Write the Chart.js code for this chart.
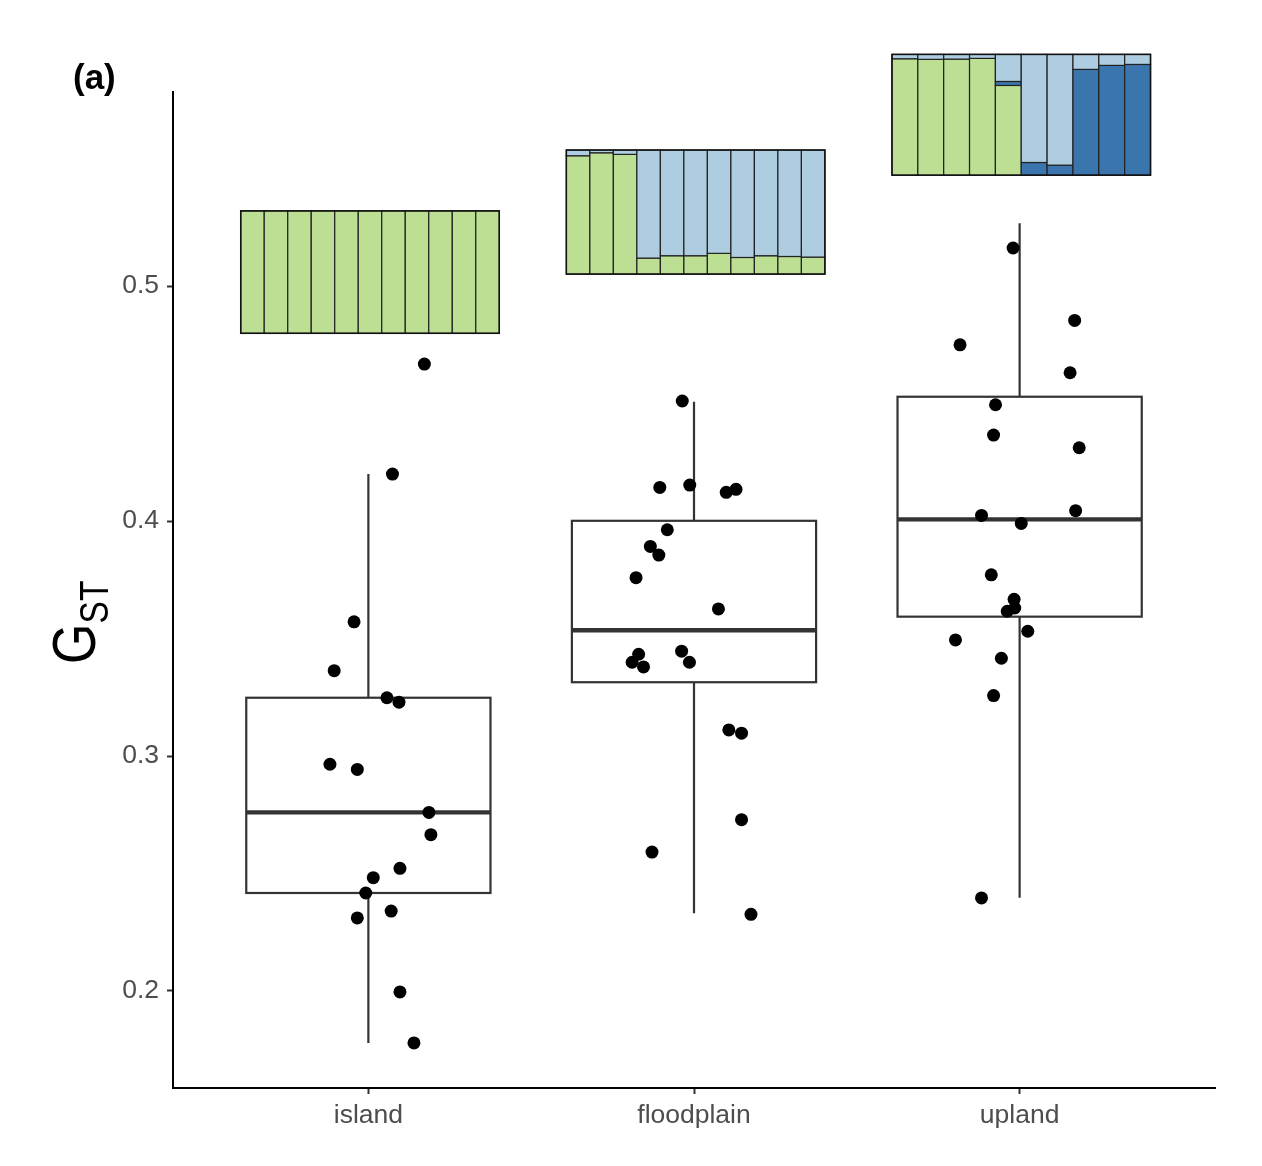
<!DOCTYPE html>
<html>
<head>
<meta charset="utf-8">
<script src="https://cdn.jsdelivr.net/npm/chart.js@4.4.0/dist/chart.umd.min.js"></script>
<style>
body { margin: 0; background: #fff; }
#wrap { width: 1262px; height: 1166px; }
</style>
</head>
<body>
<div id="wrap"><canvas id="chart1"></canvas></div>
<script>
const groups = ['island', 'floodplain', 'upland'];
const yTicks = [0.2, 0.3, 0.4, 0.5];

// box stats per group
const whiskerLow = [0.1779, 0.2331, 0.2397];
const q1 = [0.2417, 0.3314, 0.3593];
const median = [0.2760, 0.3535, 0.4007];
const q3 = [0.3248, 0.4001, 0.4529];
const whiskerHigh = [0.4200, 0.4508, 0.5267];

// jittered points (x is group position 1..3 plus jitter)
const islandX = [1.172, 1.074, 0.956, 0.895, 1.057, 1.094, 0.882, 0.966, 1.186, 1.192, 1.097, 1.015, 0.992, 1.070, 0.966, 1.097, 1.140];
const islandY = [0.4668, 0.4200, 0.3571, 0.3363, 0.3248, 0.3229, 0.2965, 0.2943, 0.2760, 0.2665, 0.2522, 0.2482, 0.2417, 0.2340, 0.2311, 0.1996, 0.1779];
const floodX = [1.964, 1.895, 1.987, 2.099, 2.129, 1.918, 1.866, 1.892, 1.822, 2.075, 1.830, 1.810, 1.845, 1.962, 1.986, 2.107, 2.146, 2.146, 1.871, 2.175];
const floodY = [0.4511, 0.4143, 0.4153, 0.4122, 0.4135, 0.3963, 0.3892, 0.3855, 0.3759, 0.3626, 0.3433, 0.3399, 0.3379, 0.3446, 0.3399, 0.3111, 0.3097, 0.2729, 0.2591, 0.2326];
const uplandX = [2.980, 3.169, 2.817, 3.155, 2.926, 2.920, 3.183, 2.883, 3.172, 3.005, 2.913, 2.983, 2.985, 2.962, 3.025, 2.803, 2.944, 2.920, 2.883];
const uplandY = [0.5162, 0.4854, 0.4750, 0.4631, 0.4495, 0.4366, 0.4312, 0.4024, 0.4044, 0.3990, 0.3771, 0.3667, 0.3630, 0.3616, 0.3531, 0.3494, 0.3416, 0.3257, 0.2396];

// structure plots: ancestry proportions per individual (rest is light blue)
const islandGreen = [1, 1, 1, 1, 1, 1, 1, 1, 1, 1, 1];
const islandDark = [0, 0, 0, 0, 0, 0, 0, 0, 0, 0, 0];
const floodGreen = [0.954, 0.978, 0.965, 0.129, 0.148, 0.148, 0.167, 0.134, 0.148, 0.142, 0.137];
const floodDark = [0, 0, 0, 0, 0, 0, 0, 0, 0, 0, 0];
const uplandGreen = [0.964, 0.959, 0.961, 0.967, 0.743, 0, 0, 0, 0, 0];
const uplandDark = [0, 0, 0, 0, 0.033, 0.105, 0.083, 0.876, 0.909, 0.917];
// GST range covered by each structure plot
const structLow = [0.4799, 0.5051, 0.5472];
const structHigh = [0.5320, 0.5579, 0.5986];

const fam = "'Liberation Sans', Arial, sans-serif";
const green = '#bddf94', light = '#aecde1', dark = '#3b75ae';

function pts(xs, ys) {
  return xs.map((v, i) => ({ x: v, y: ys[i] }));
}

const boxPlugin = {
  id: 'boxes',
  beforeDatasetsDraw(chart) {
    const ctx = chart.ctx, x = chart.scales.x, y = chart.scales.y;
    ctx.save();
    // structure plots
    const greens = [islandGreen, floodGreen, uplandGreen];
    const darks = [islandDark, floodDark, uplandDark];
    for (let g = 0; g < 3; g++) {
      const n = greens[g].length;
      const x0 = g + 1 - 0.392, x1 = g + 1 + 0.402;
      const lo = structLow[g], hi = structHigh[g];
      for (let k = 0; k < n; k++) {
        const l = x.getPixelForValue(x0 + (x1 - x0) * k / n);
        const r = x.getPixelForValue(x0 + (x1 - x0) * (k + 1) / n);
        const parts = [[greens[g][k], green], [darks[g][k], dark], [1 - greens[g][k] - darks[g][k], light]];
        let acc = 0;
        for (const [p, col] of parts) {
          if (p <= 0.0001) continue;
          const yb = y.getPixelForValue(lo + (hi - lo) * acc);
          const yt = y.getPixelForValue(lo + (hi - lo) * (acc + p));
          ctx.fillStyle = col;
          ctx.fillRect(l, yt, r - l, yb - yt);
          ctx.strokeStyle = '#222';
          ctx.lineWidth = 1.2;
          ctx.strokeRect(l, yt, r - l, yb - yt);
          acc += p;
        }
      }
      const L = x.getPixelForValue(x0), R = x.getPixelForValue(x1);
      const T = y.getPixelForValue(hi), B = y.getPixelForValue(lo);
      ctx.strokeStyle = '#111';
      ctx.lineWidth = 1.5;
      ctx.strokeRect(L, T, R - L, B - T);
    }
    // boxplots
    ctx.strokeStyle = '#333333';
    for (let i = 0; i < groups.length; i++) {
      const c = i + 1;
      const left = x.getPixelForValue(c - 0.375), right = x.getPixelForValue(c + 0.375);
      const mid = x.getPixelForValue(c);
      ctx.lineWidth = 2.2;
      ctx.beginPath();
      ctx.moveTo(mid, y.getPixelForValue(whiskerHigh[i]));
      ctx.lineTo(mid, y.getPixelForValue(q3[i]));
      ctx.moveTo(mid, y.getPixelForValue(q1[i]));
      ctx.lineTo(mid, y.getPixelForValue(whiskerLow[i]));
      ctx.stroke();
      const top = y.getPixelForValue(q3[i]), bot = y.getPixelForValue(q1[i]);
      ctx.strokeRect(left, top, right - left, bot - top);
      ctx.lineWidth = 4.4;
      ctx.beginPath();
      ctx.moveTo(left, y.getPixelForValue(median[i]));
      ctx.lineTo(right, y.getPixelForValue(median[i]));
      ctx.stroke();
    }
    ctx.restore();
  },
  afterDraw(chart) {
    const ctx = chart.ctx;
    ctx.save();
    ctx.fillStyle = '#000';
    ctx.textBaseline = 'alphabetic';
    ctx.font = 'bold 35px ' + fam;
    ctx.fillText('(a)', 73, 89);
    // y axis title G_ST, narrow like the original
    ctx.translate(95, 664);
    ctx.rotate(-Math.PI / 2);
    ctx.scale(0.84, 1);
    ctx.font = '62px ' + fam;
    ctx.fillText('G', 0, 0);
    const w = ctx.measureText('G').width;
    ctx.font = '40px ' + fam;
    ctx.fillText('ST', w, 13);
    ctx.restore();
  }
};

const dotStyle = { backgroundColor: '#000', borderWidth: 0, pointRadius: 6.5, pointHoverRadius: 6.5 };

new Chart(document.getElementById('chart1'), {
  type: 'scatter',
  data: {
    datasets: [
      Object.assign({ label: groups[0], data: pts(islandX, islandY) }, dotStyle),
      Object.assign({ label: groups[1], data: pts(floodX, floodY) }, dotStyle),
      Object.assign({ label: groups[2], data: pts(uplandX, uplandY) }, dotStyle)
    ]
  },
  options: {
    responsive: true,
    maintainAspectRatio: false,
    animation: false,
    layout: { padding: { left: 0, top: 92, right: 47, bottom: 28 } },
    plugins: { legend: { display: false }, tooltip: { enabled: false } },
    scales: {
      x: {
        type: 'linear',
        min: 0.4,
        max: 3.6,
        afterBuildTicks: s => { s.ticks = [1, 2, 3].map(v => ({ value: v })); },
        afterFit: s => { s.height = 50; },
        grid: { drawOnChartArea: false, drawTicks: true, tickLength: 6, tickWidth: 2, tickColor: '#333' },
        border: { display: true, color: '#000', width: 2 },
        ticks: {
          color: '#4d4d4d',
          padding: 6,
          font: { family: fam, size: 26.5 },
          callback: v => groups[v - 1]
        }
      },
      y: {
        min: 0.1587,
        max: 0.5826,
        afterBuildTicks: s => { s.ticks = yTicks.map(v => ({ value: v })); },
        afterFit: s => { s.width = 173; },
        grid: { drawOnChartArea: false, drawTicks: true, tickLength: 6, tickWidth: 2, tickColor: '#333' },
        border: { display: true, color: '#000', width: 2 },
        ticks: {
          color: '#4d4d4d',
          padding: 8,
          font: { family: fam, size: 26.5 },
          callback: v => v.toFixed(1)
        }
      }
    }
  },
  plugins: [boxPlugin]
});
</script>
</body>
</html>
